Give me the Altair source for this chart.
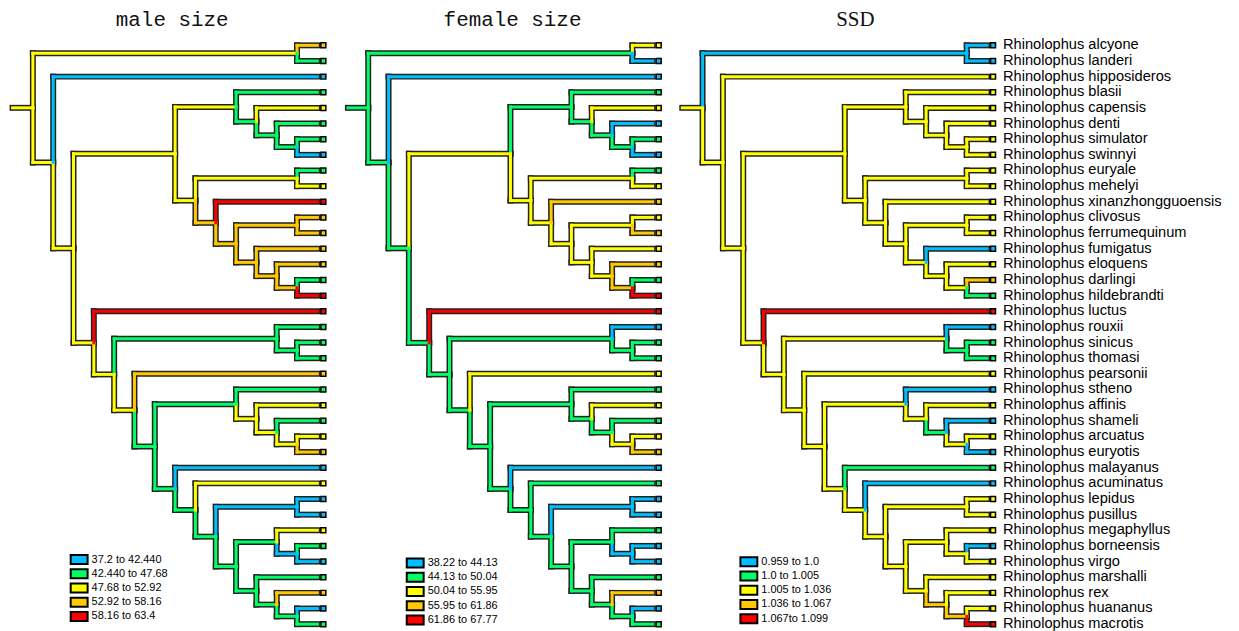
import altair as alt
import pandas as pd

# ---------------- data ----------------
genus = "Rhinolophus"
species = ["alcyone", "landeri", "hipposideros", "blasii", "capensis", "denti", "simulator",
           "swinnyi", "euryale", "mehelyi", "xinanzhongguoensis", "clivosus", "ferrumequinum",
           "fumigatus", "eloquens", "darlingi", "hildebrandti", "luctus", "rouxii", "sinicus",
           "thomasi", "pearsonii", "stheno", "affinis", "shameli", "arcuatus", "euryotis",
           "malayanus", "acuminatus", "lepidus", "pusillus", "megaphyllus", "borneensis",
           "virgo", "marshalli", "rex", "huananus", "macrotis"]

# tree topology (cladogram)
clade_E = "(blasii,(capensis,(denti,(simulator,swinnyi))))"
clade_F = ("((euryale,mehelyi),(xinanzhongguoensis,((clivosus,ferrumequinum),"
           "(fumigatus,(eloquens,(darlingi,hildebrandti))))))")
clade_S = "(stheno,(affinis,(shameli,(arcuatus,euryotis))))"
clade_W = ("(malayanus,(acuminatus,((lepidus,pusillus),((megaphyllus,(borneensis,virgo)),"
           "(marshalli,(rex,(huananus,macrotis)))))))")
clade_D = "(luctus,((rouxii,(sinicus,thomasi)),(pearsonii,(" + clade_S + "," + clade_W + "))))"
newick = "((alcyone,landeri),(hipposideros,((" + clade_E + "," + clade_F + ")," + clade_D + ")))"

# state classes: B=blue, G=green, Y=yellow, O=orange, R=red
class_codes = ["B", "G", "Y", "O", "R"]
palette = ["#00BFFF", "#00FF66", "#FFFF00", "#FFC800", "#FF0000"]

titles = ["male size", "female size", "SSD"]
male_labels = ["37.2 to 42.440", "42.440 to 47.68", "47.68 to 52.92", "52.92 to 58.16", "58.16 to 63.4"]
female_labels = ["38.22 to 44.13", "44.13 to 50.04", "50.04 to 55.95", "55.95 to 61.86", "61.86 to 67.77"]
ssd_labels = ["0.959 to 1.0", "1.0 to 1.005", "1.005 to 1.036", "1.036 to 1.067", "1.067to 1.099"]

# tip branch classes (species order) and internal-node branch classes (preorder, root first)
male_tips = "OGBGYGGBGYROOOOGRRGGGOGYGYOBYBBYGBGOBG"
male_nodes = "YYYYYYGGGYYOOOOOOYYGGYGGYYYGGGBGGBGGG"
female_tips = "YBBGYBGBGYOYOYOGRRBGGYGYGYOBGBBGBBGOBG"
female_nodes = "GGGGYGGGGYYYYYYYOGGGGGGGGGYGGGBGGBGGG"
ssd_tips = "BBYYYYYYYYYYYBYOGRBGGYBYBYBGBYYYBYYYYR"
ssd_nodes = "YB" + "YYYYYYYYYYYYYYYYYY" + "G" + "YYYY" + "G" + "YYYYYYYYY" + "OO"

# ---------------- tree layout ----------------
def parse(s):
    pos = 0

    def node():
        nonlocal pos
        if s[pos] == "(":
            pos += 1
            kids = [node()]
            while s[pos] == ",":
                pos += 1
                kids.append(node())
            pos += 1  # ')'
            return {"kids": kids}
        start = pos
        while pos < len(s) and s[pos] not in ",()":
            pos += 1
        return {"name": s[start:pos]}

    return node()


tree = parse(newick)
tips, internals = [], []


def walk(n, parent):
    n["parent"] = parent
    if "kids" in n:
        internals.append(n)
        for k in n["kids"]:
            walk(k, n)
        n["h"] = 1 + max(k["h"] for k in n["kids"])
        n["y"] = (n["kids"][0]["y"] + n["kids"][-1]["y"]) / 2
    else:
        n["h"] = 0
        n["y"] = float(len(tips))
        tips.append(n)


walk(tree, None)
assert [t["name"] for t in tips] == species
H = tree["h"]
hex_of = dict(zip(class_codes, palette))


def depth(n):
    return H - n["h"]


def build(tip_codes, node_codes, labels):
    assert len(tip_codes) == len(tips) and len(node_codes) == len(internals)
    lab = dict(zip(class_codes, labels))
    for t, c in zip(tips, tip_codes):
        t["c"] = c
    for n, c in zip(internals, node_codes):
        n["c"] = c
    segs = []
    for n in internals + tips:
        p = n["parent"]
        hx = hex_of[n["c"]]
        if p is None:
            segs.append(dict(x=depth(n) - 1, x2=depth(n), y=n["y"], y2=n["y"], hex=hx))
        else:
            segs.append(dict(x=depth(p), x2=depth(p), y=p["y"], y2=n["y"], hex=hx))
            segs.append(dict(x=depth(p), x2=depth(n), y=n["y"], y2=n["y"], hex=hx))
    tip_df = pd.DataFrame(dict(x=[depth(t) for t in tips], y=[t["y"] for t in tips],
                               cls=[lab[t["c"]] for t in tips],
                               name=[genus + " " + t["name"] for t in tips]))
    return pd.DataFrame(segs), tip_df


# ---------------- chart ----------------
STEP = 20.42       # px per tree level
ROOT_PX = 23       # root position inside panel
TIP_PX = 15.72     # px between tips
PLOT_TOP = 33      # screen y of plot area top (page incl. margin)
FIRST_TIP = 44     # screen y of first tip
HEIGHT = 592
LEG_PATH = "M-1.889,-1L1.889,-1L1.889,1L-1.889,1Z"


def panel(title, tip_codes, node_codes, labels, width, title_dx, leg_x, leg_y, names=False):
    seg_df, tip_df = build(tip_codes, node_codes, labels)
    xs = alt.Scale(domain=[-ROOT_PX / STEP, (width - ROOT_PX) / STEP], nice=False, zero=False)
    y0 = -(FIRST_TIP - PLOT_TOP) / TIP_PX
    ys = alt.Scale(domain=[y0, y0 + HEIGHT / TIP_PX], nice=False, zero=False, reverse=True)
    cs = alt.Scale(domain=labels, range=palette)
    X = alt.X("x:Q", scale=xs, axis=None)
    Y = alt.Y("y:Q", scale=ys, axis=None)
    outline = alt.Chart(seg_df).mark_rule(color="#222222", strokeWidth=6, strokeCap="square").encode(
        x=X, x2="x2:Q", y=Y, y2="y2:Q")
    colored = alt.Chart(seg_df).mark_rule(strokeWidth=3, strokeCap="square").encode(
        x=X, x2="x2:Q", y=Y, y2="y2:Q",
        stroke=alt.Stroke("hex:N", scale=None))
    squares = alt.Chart(tip_df).mark_square(size=25, filled=True, stroke="black", strokeWidth=1.5,
                                            opacity=1, xOffset=6).encode(
        x=X, y=Y,
        fill=alt.Fill("cls:N", scale=cs, legend=alt.Legend(
            title=None, orient="none", legendX=leg_x, legendY=leg_y, padding=0,
            symbolType=LEG_PATH, symbolSize=81, symbolStrokeColor="black", symbolStrokeWidth=2,
            symbolOpacity=1, labelFont="Liberation Sans", labelFontSize=11, labelColor="black",
            labelOffset=7, rowPadding=-2.7)))
    layers = [outline, colored, squares]
    if names:
        layers.append(alt.Chart(tip_df).mark_text(
            align="left", baseline="middle", dx=16, font="Liberation Sans", fontSize=14.7,
            color="black").encode(x=X, y=Y, text="name:N"))
    return alt.layer(*layers).properties(
        width=width, height=HEIGHT,
        title=alt.TitleParams(title, font=("Liberation Mono" if title != "SSD" else "Liberation Serif"),
                              fontSize=21, fontWeight="normal", color="#111111",
                              anchor="middle", dx=title_dx, offset=4))


p1 = panel(titles[0], male_tips, male_nodes, male_labels, 335, -4.5, 64, 555.2 - PLOT_TOP)
p2 = panel(titles[1], female_tips, female_nodes, female_labels, 334, 1, 64.7, 558.7 - PLOT_TOP)
p3 = panel(titles[2], ssd_tips, ssd_nodes, ssd_labels, 554, -100.5, 64, 557.5 - PLOT_TOP, names=True)

chart = alt.hconcat(p1, p2, p3, spacing=0).resolve_scale(
    x="independent", y="independent", fill="independent"
).resolve_legend(fill="independent").properties(padding=0).configure_view(strokeWidth=0)

chart.save("out.html", embed_options={"renderer": "svg", "actions": False})
